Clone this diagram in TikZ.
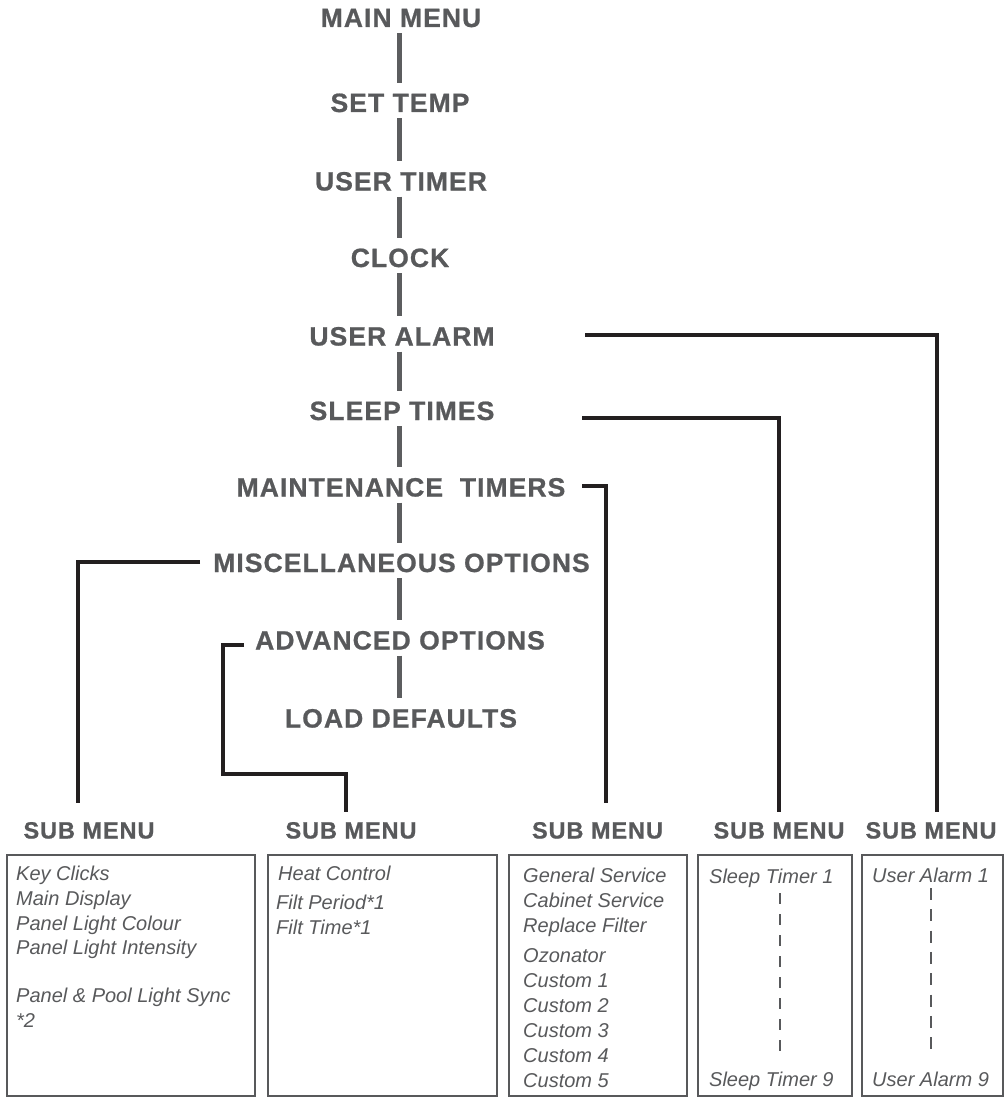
\documentclass[tikz,border=0pt]{standalone}
\usepackage{fontspec}
\setmainfont{Liberation Sans}
\newfontfamily\hdfont{Liberation Sans}[LetterSpace=4.0, BoldFeatures={FakeBold=0.8}]
\usetikzlibrary{calc}
\definecolor{txtgray}{RGB}{88,89,91}
\definecolor{bargray}{RGB}{92,93,95}
\definecolor{linblack}{RGB}{35,31,32}
\tikzset{
  mainlbl/.style={font=\hdfont\bfseries\fontsize{26.5}{26.5}\selectfont, text=txtgray,
    inner sep=0pt, text height=19pt, text depth=0pt},
  sublbl/.style={font=\hdfont\bfseries\fontsize{23.5}{23.5}\selectfont, text=txtgray,
    inner sep=0pt, text height=17pt, text depth=0pt},
  bar/.style={draw=bargray, line width=4.5pt, line cap=butt, shorten <=6pt, shorten >=10pt},
  blk/.style={draw=linblack, line width=4pt, line cap=butt, line join=miter},
  menubox/.style={draw=txtgray, line width=2pt, inner sep=0pt},
  item/.style={font=\itshape\fontsize{20}{20}\selectfont, text=txtgray, inner sep=0pt, anchor=base west},
  dsh/.style={draw=txtgray, line width=2pt, dash pattern=on 11pt off 10pt}
}
\begin{document}
\begin{tikzpicture}[x=1pt,y=-1pt]
\useasboundingbox (0,0) rectangle (1005,1097);
\coordinate (spine) at (399.5,0);
% main labels
\node[mainlbl] (mm) at (401,17.5) {MAIN MENU};
\node[mainlbl] (st) at (400,102.5) {SET TEMP};
\node[mainlbl] (ut) at (401,181) {USER TIMER};
\node[mainlbl] (cl) at (400,257.5) {CLOCK};
\node[mainlbl] (ua) at (402,336) {USER ALARM};
\node[mainlbl] (sl) at (402,410.5) {SLEEP TIMES};
\node[mainlbl] (mt) at (401,487) {MAINTENANCE\ \ TIMERS};
\node[mainlbl] (mi) at (401.5,562.5) {MISCELLANEOUS OPTIONS};
\node[mainlbl] (ad) at (400,640) {ADVANCED OPTIONS};
\node[mainlbl] (ld) at (401,718) {LOAD DEFAULTS};
% spine bars
\foreach \a/\b in {mm/st,st/ut,ut/cl,cl/ua,ua/sl,sl/mt,mt/mi,mi/ad,ad/ld}
  \draw[bar] (\a.south -| spine) -- (\b.north -| spine);
% sub menu labels
\node[sublbl] (sm1) at (89,830) {SUB MENU};
\node[sublbl] (sm2) at (351,830) {SUB MENU};
\node[sublbl] (sm3) at (597.5,830) {SUB MENU};
\node[sublbl] (sm4) at (779,830) {SUB MENU};
\node[sublbl] (sm5) at (931,830) {SUB MENU};
% black connectors
\draw[blk] ([xshift=183pt,yshift=1pt]ua.center) -| ([xshift=5.5pt,yshift=18pt]sm5.center);
\draw[blk] ([xshift=180pt,yshift=-7.5pt]sl.center) -| ([xshift=-0.5pt,yshift=18pt]sm4.center);
\draw[blk] ([xshift=181pt,yshift=1pt]mt.center) -| ([xshift=8.5pt,yshift=27pt]sm3.center);
\draw[blk] ([xshift=-201.5pt,yshift=0.5pt]mi.center) -| ([xshift=-11.5pt,yshift=27pt]sm1.center);
\coordinate (advturn) at (223,773.5);
\draw[blk] ([xshift=-156pt,yshift=-4.5pt]ad.center) -| (advturn) -| ([xshift=-5.5pt,yshift=18pt]sm2.center);
% boxes
\node[menubox, minimum width=248pt, minimum height=241pt] (b1) at (131,975.5) {};
\node[menubox, minimum width=229pt, minimum height=241pt] (b2) at (382.5,975.5) {};
\node[menubox, minimum width=178pt, minimum height=241pt] (b3) at (598,975.5) {};
\node[menubox, minimum width=154pt, minimum height=241pt] (b4) at (775,975.5) {};
\node[menubox, minimum width=141pt, minimum height=241pt] (b5) at (932.5,975.5) {};
% box 1
\node[item] (k1) at (16,880) {Key Clicks};
\node[item] (k2) at (16,905) {Main Display};
\node[item] (k3) at (16,930) {Panel Light Colour};
\node[item] (k4) at (16,954) {Panel Light Intensity};
\node[item] (k5) at (16,1002) {Panel \& Pool Light Sync};
\node[item] (k6) at (16,1027) {*2};
% box 2
\node[item] (h1) at (278,880) {Heat Control};
\node[item] (h2) at (276,909) {Filt Period*1};
\node[item] (h3) at (276,934) {Filt Time*1};
% box 3
\node[item] (g1) at (523,882) {General Service};
\node[item] (g2) at (523,907) {Cabinet Service};
\node[item] (g3) at (523,932) {Replace Filter};
\node[item] (g4) at (523,962) {Ozonator};
\node[item] (g5) at (523,987) {Custom 1};
\node[item] (g6) at (523,1012) {Custom 2};
\node[item] (g7) at (523,1037) {Custom 3};
\node[item] (g8) at (523,1062) {Custom 4};
\node[item] (g9) at (523,1087) {Custom 5};
% box 4
\node[item] (s1) at (709,883) {Sleep Timer 1};
\node[item] (s9) at (709,1086) {Sleep Timer 9};
\coordinate (d4a) at (780,893);
\coordinate (d4b) at (780,1053);
\draw[dsh] (d4a) -- (d4b);
% box 5
\node[item] (u1) at (872,882) {User Alarm 1};
\node[item] (u9) at (872,1086) {User Alarm 9};
\coordinate (d5a) at (931,888);
\coordinate (d5b) at (931,1051);
\draw[dsh, dash pattern=on 12pt off 9.3pt] (d5a) -- (d5b);
\end{tikzpicture}
\end{document}
